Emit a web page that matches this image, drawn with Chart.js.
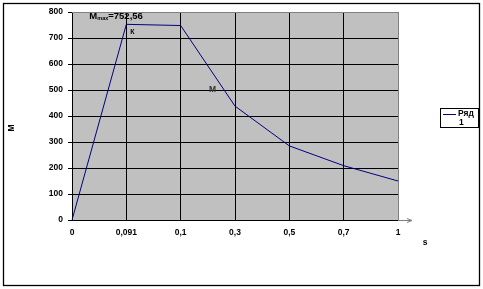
<!DOCTYPE html>
<html><head><meta charset="utf-8">
<script src="https://cdn.jsdelivr.net/npm/chart.js@4/dist/chart.umd.min.js"></script>
<style>html,body{margin:0;padding:0;background:#fff}#wrap{width:483px;height:289px}</style>
</head><body><div id="wrap"><canvas id="c" width="483" height="289"></canvas></div>
<script>
const categories = ['0', '0,091', '0,1', '0,3', '0,5', '0,7', '1'];
const seriesValues = [0, 752.56, 748, 438, 285, 209, 150];
const seriesName = 'Ряд 1';
const yTicks = [0, 100, 200, 300, 400, 500, 600, 700, 800];

const FONT = '"Liberation Sans", Arial, sans-serif';

const deco = {
  id: 'deco',
  beforeDraw(chart) {
    const {ctx, chartArea: a} = chart;
    ctx.save();
    ctx.fillStyle = '#fff';
    ctx.fillRect(0, 0, chart.width, chart.height);
    ctx.fillStyle = '#C0C0C0';
    ctx.fillRect(a.left, a.top, a.right - a.left, a.bottom - a.top);
    ctx.restore();
  },
  afterDraw(chart) {
    const {ctx, chartArea: a} = chart;
    ctx.save();
    // outer frame
    ctx.strokeStyle = '#000'; ctx.lineWidth = 1.3;
    ctx.strokeRect(3.5, 3.5, 476, 282);
    // top/right gray border of plot
    ctx.strokeStyle = '#808080'; ctx.lineWidth = 1;
    ctx.beginPath();
    ctx.moveTo(a.left, a.top + 0.5); ctx.lineTo(a.right + 0.5, a.top + 0.5); ctx.lineTo(a.right + 0.5, a.bottom);
    ctx.stroke();
    // x axis arrow extension
    ctx.strokeStyle = '#808080';
    ctx.beginPath(); ctx.moveTo(a.right, a.bottom + 0.5); ctx.lineTo(a.right + 14, a.bottom + 0.5); ctx.stroke();
    ctx.beginPath(); ctx.moveTo(a.right + 14, a.bottom + 0.5); ctx.lineTo(a.right + 9, a.bottom - 1.5);
    ctx.moveTo(a.right + 14, a.bottom + 0.5); ctx.lineTo(a.right + 9, a.bottom + 2.5); ctx.stroke();
    // axis titles
    ctx.fillStyle = '#000';
    ctx.font = 'bold 8.5px ' + FONT;
    ctx.textAlign = 'center'; ctx.textBaseline = 'middle';
    ctx.fillText('s', 425, 243);
    ctx.save(); ctx.translate(12, 128); ctx.rotate(-Math.PI / 2); ctx.fillText('M', 0, 0); ctx.restore();
    // annotations
    const xs = chart.scales.x, ys = chart.scales.y;
    const px = xs.getPixelForValue(1), py = ys.getPixelForValue(seriesValues[1]);
    ctx.textAlign = 'left'; ctx.textBaseline = 'alphabetic';
    let x = px - 37, y = py - 5;
    ctx.font = 'bold 9.5px ' + FONT; ctx.fillText('M', x, y); x += ctx.measureText('M').width;
    ctx.font = 'bold 5.5px ' + FONT; ctx.fillText('max', x, y + 1); x += ctx.measureText('max').width;
    ctx.font = 'bold 9.5px ' + FONT; ctx.fillText('=752,56', x, y);
    ctx.font = 'bold 7px ' + FONT;
    ctx.fillText('К', px + 4, py + 10);
    ctx.fillStyle = '#333';
    ctx.font = 'bold 8.5px ' + FONT;
    ctx.fillText('M', 209, 92);
    // legend
    ctx.fillStyle = '#fff';
    ctx.fillRect(440, 108, 38, 19);
    ctx.strokeStyle = '#000'; ctx.lineWidth = 1;
    ctx.strokeRect(440.5, 108.5, 38, 19);
    ctx.strokeStyle = '#000080';
    ctx.beginPath(); ctx.moveTo(443, 114.5); ctx.lineTo(456, 114.5); ctx.stroke();
    ctx.fillStyle = '#000'; ctx.font = 'bold 8.5px ' + FONT; ctx.textBaseline = 'middle';
    const parts = seriesName.split(' ');
    ctx.fillText(parts[0], 458, 114);
    ctx.fillText(parts[1], 459, 123);
    ctx.restore();
  }
};

new Chart(document.getElementById('c'), {
  type: 'line',
  data: {
    labels: categories,
    datasets: [{
      label: seriesName,
      data: seriesValues,
      borderColor: '#000080',
      borderWidth: 1,
      pointRadius: 0,
      tension: 0,
      fill: false
    }]
  },
  options: {
    responsive: false,
    animation: false,
    devicePixelRatio: 1,
    layout: {padding: {left: 0, top: 12, right: 85, bottom: 0}},
    plugins: {legend: {display: false}, tooltip: {enabled: false}},
    scales: {
      x: {
        type: 'category',
        offset: false,
        afterFit(s) { s.height = 69; },
        grid: {
          color: (c) => c.index === categories.length - 1 ? '#808080' : '#000',
          lineWidth: 1,
          drawTicks: false
        },
        border: {color: '#000', width: 1},
        ticks: {color: '#000', font: {family: FONT, size: 8.5, weight: 'bold'}, padding: 8, maxRotation: 0, autoSkip: false}
      },
      y: {
        min: 0, max: 800,
        afterFit(s) { s.width = 72; },
        afterBuildTicks(s) { s.ticks = yTicks.map(v => ({value: v})); },
        grid: {
          color: (c) => (c.tick && c.tick.value === 800) ? '#808080' : '#000',
          lineWidth: 1,
          tickLength: 4,
          tickColor: '#000'
        },
        border: {color: '#000', width: 1},
        ticks: {color: '#000', font: {family: FONT, size: 8.5, weight: 'bold'}, padding: 5}
      }
    }
  },
  plugins: [deco]
});
</script>
</body></html>
